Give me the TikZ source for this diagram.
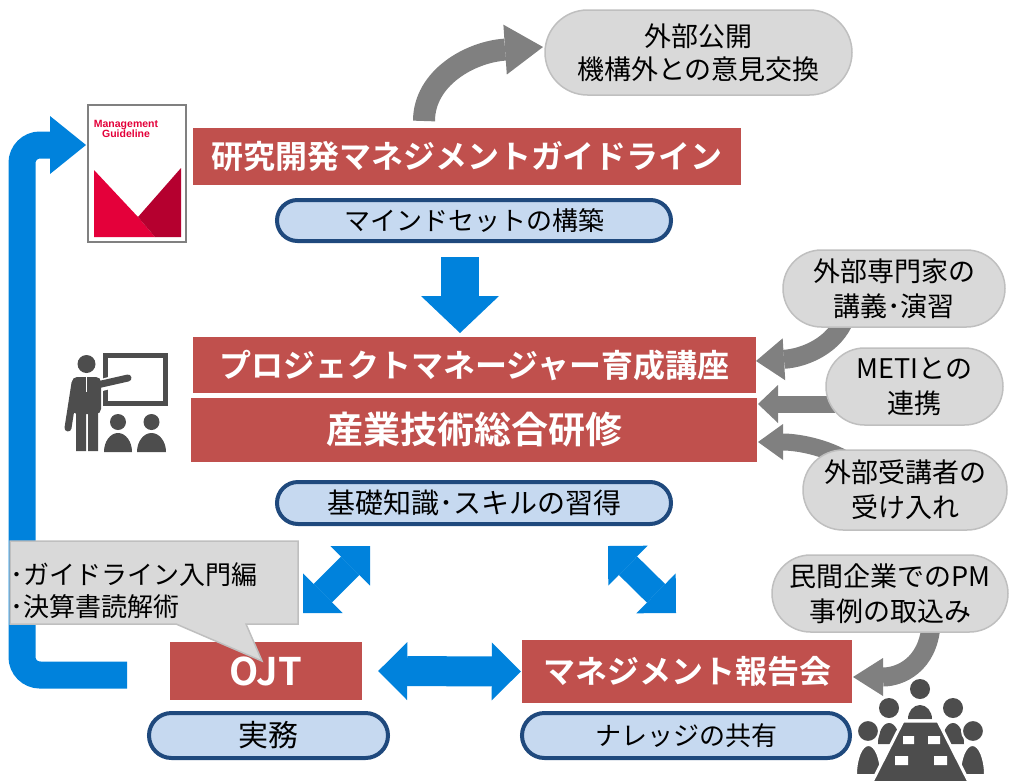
\documentclass[tikz,border=0pt]{standalone}
\usepackage{fontspec}
\setmainfont{Noto Sans CJK JP}[BoldFont={Noto Sans CJK JP Bold}]
\newfontfamily\coverfont{Liberation Sans}
\usetikzlibrary{arrows.meta,shapes.misc,shapes.callouts}

\definecolor{titlered}{RGB}{192,80,77}
\definecolor{tagfill}{RGB}{198,217,240}
\definecolor{tagline}{RGB}{31,73,125}
\definecolor{flowblue}{RGB}{0,130,220}
\definecolor{notefill}{RGB}{217,217,217}
\definecolor{noteline}{RGB}{191,191,191}
\definecolor{feedgray}{RGB}{128,128,128}
\definecolor{icongray}{RGB}{77,77,77}
\definecolor{guidered}{RGB}{228,0,58}
\definecolor{guidedark}{RGB}{181,0,47}

\tikzset{
	redbox/.style={fill=titlered, text=white, inner sep=0pt, font=\bfseries\fontsize{32}{36}\selectfont},
	tagbox/.style={rounded rectangle, fill=tagfill, draw=tagline, line width=4pt, inner sep=0pt, font=\fontsize{26}{30}\selectfont},
	notebox/.style={rounded rectangle, fill=notefill, draw=noteline, line width=1.5pt, inner sep=0pt, align=center, font=\fontsize{27}{35}\selectfont},
	blueflow/.style={draw=flowblue, line width=#1},
	grayflow/.style={draw=feedgray, line width=#1},
}

\begin{document}
\begin{tikzpicture}[x=1pt, y=-1pt]
	\useasboundingbox (0,0) rectangle (1010,780);

	\coordinate (loopend) at (127,675);
	\coordinate (looptip) at (86,145);
	\draw [blueflow=27pt, rounded corners=18pt] (loopend) -- (22,675) -- (22,145) -- (54,145);
	\draw [blueflow=27pt, -{Triangle[width=58pt,length=36pt,line width=0pt]}] (50,145) -- (looptip);

	\filldraw [fill=white, draw=gray, line width=2pt] (88,105) rectangle (186,242);
	\fill [guidered] (94,170) -- (138,217) -- (155,237) -- (94,237) -- cycle;
	\fill [guidedark] (138,217) -- (181,168) -- (181,237) -- (155,237) -- cycle;
	\node [text=guidered, align=center, inner sep=0pt, font=\coverfont\bfseries\fontsize{10.5}{9}\selectfont] (cover) at (126,129) {Management\\Guideline};

	\draw [icongray, line width=5pt] (105,355) rectangle (165,403);
	\draw [white, line width=12pt, line cap=round] (98,386) -- (128,378);
	\fill [icongray] (86.5,364) circle (9pt);
	\fill [icongray, rounded corners=5pt] (72,377) -- (101,377) -- (101,414) -- (72,414) -- cycle;
	\fill [icongray] (76,405) rectangle (86,451) (88,405) rectangle (98,451);
	\draw [icongray, line width=7pt, line cap=round] (75,383) -- (68,428) (97,385) -- (128,378);
	\draw [white, line width=1.5pt] (86.5,377) -- (86.5,392);
	\fill [icongray] (118,422) circle (8pt) (151.5,422) circle (8pt);
	\fill [icongray] (104,452) arc [start angle=180, end angle=0, x radius=14pt, y radius=19pt] -- cycle;
	\fill [icongray] (137,452) arc [start angle=180, end angle=0, x radius=14.5pt, y radius=19pt] -- cycle;

	\fill [icongray] (920,689) circle (10pt) (889,708) circle (10pt) (953,708) circle (10pt);
	\fill [icongray] (908,719) arc [start angle=180, end angle=0, x radius=12pt, y radius=14pt] -- cycle;
	\fill [icongray] (878,744) arc [start angle=180, end angle=0, x radius=11pt, y radius=21pt] -- cycle;
	\fill [icongray] (942,744) arc [start angle=180, end angle=0, x radius=11pt, y radius=21pt] -- cycle;
	\filldraw [fill=icongray, draw=white, line width=2pt] (868,731) circle (11pt) (973,731) circle (11pt);
	\filldraw [fill=icongray, draw=white, line width=2pt] (856,775) arc [start angle=180, end angle=0, x radius=12.5pt, y radius=30pt] -- cycle;
	\filldraw [fill=icongray, draw=white, line width=2pt] (960,775) arc [start angle=180, end angle=0, x radius=12.5pt, y radius=30pt] -- cycle;
	\filldraw [fill=icongray, draw=white, line width=3pt] (903,721) -- (938,721) -- (970,784) -- (871,784) -- cycle;
	\fill [white] (903,736) rectangle (914,744) (928,736) rectangle (940,744) (895,756) rectangle (908,765) (934,756) rectangle (947,765);

	\coordinate (guidetop) at (424,121);
	\coordinate (publictip) at (543,47);
	\draw [grayflow=22pt, >={Triangle[width=50pt,length=38pt,line width=0pt]}, ->] (guidetop) .. controls (424,78) and (470,52) .. (publictip);
	\coordinate (expertfoot) at (845,318);
	\coordinate (coursetip) at (756,361);
	\draw [grayflow=19pt, >={Triangle[width=42pt,length=28pt,line width=0pt]}, ->] (expertfoot) .. controls (835,345) and (805,358) .. (coursetip);
	\coordinate (metifoot) at (835,404);
	\coordinate (midtip) at (758,404);
	\draw [grayflow=17pt, >={Triangle[width=38pt,length=20pt,line width=0pt]}, ->] (metifoot) -- (midtip);
	\coordinate (guestfoot) at (850,462);
	\coordinate (trainingtip) at (758,442);
	\draw [grayflow=17pt, >={Triangle[width=36pt,length=25pt,line width=0pt]}, ->] (guestfoot) .. controls (825,446) and (795,442) .. (trainingtip);
	\coordinate (privatefoot) at (931,625);
	\coordinate (reporttip) at (853,677);
	\draw [grayflow=19pt, >={Triangle[width=38pt,length=30pt,line width=0pt]}, ->] (privatefoot) .. controls (928,665) and (900,677) .. (reporttip);

	\node [notebox, minimum width=307pt, minimum height=85pt, font=\fontsize{27}{33}\selectfont] (public) at (698.5,52.5) {外部公開\\機構外との意見交換};
	\node [notebox, minimum width=222pt, minimum height=77pt] (expert) at (894,288.5) {外部専門家の\\講義･演習};
	\node [notebox, minimum width=177pt, minimum height=77pt] (meti) at (914.5,386.5) {METIとの\\連携};
	\node [notebox, minimum width=204pt, minimum height=80pt] (guest) at (905,490) {外部受講者の\\受け入れ};
	\node [notebox, minimum width=236pt, minimum height=77pt] (private) at (890,593.5) {民間企業でのPM\\事例の取込み};

	\node [redbox, minimum width=548pt, minimum height=57pt] (guide) at (467,156.5) {研究開発マネジメントガイドライン};
	\node [tagbox, minimum width=394pt, minimum height=41pt] (mind) at (474,220.5) {マインドセットの構築};
	\node [redbox, minimum width=563pt, minimum height=56pt] (course) at (474.5,365) {プロジェクトマネージャー育成講座};
	\node [redbox, minimum width=566pt, minimum height=64pt, font=\bfseries\fontsize{37}{40}\selectfont] (training) at (474,430) {産業技術総合研修};
	\node [tagbox, minimum width=394pt, minimum height=42pt, font=\fontsize{28}{30}\selectfont] (basics) at (474,503) {基礎知識･スキルの習得};
	\node [redbox, minimum width=192pt, minimum height=58pt, font=\bfseries\fontsize{38}{40}\selectfont] (ojt) at (266,671) {OJT};
	\node [tagbox, minimum width=239pt, minimum height=45pt, font=\fontsize{30}{32}\selectfont] (practice) at (268.5,735.5) {実務};
	\node [redbox, minimum width=330pt, minimum height=63pt] (report) at (687,671.5) {マネジメント報告会};
	\node [tagbox, minimum width=328pt, minimum height=45pt] (share) at (686,735.5) {ナレッジの共有};

	\coordinate (downtail) at (460,257);
	\coordinate (downtip) at (460,333);
	\draw [blueflow=38pt, -{Triangle[width=78pt,length=37pt,line width=0pt]}] (downtail) -- (downtip);
	\coordinate (ojtup) at (303,613);
	\coordinate (basicsleft) at (370,546);
	\coordinate (basicsright) at (608,546);
	\coordinate (reportup) at (676,613);
	\draw [blueflow=26pt, >={Triangle[width=56pt,length=28pt,line width=0pt]}, <->] (ojtup) -- (basicsleft);
	\draw [blueflow=26pt, >={Triangle[width=56pt,length=28pt,line width=0pt]}, <->] (basicsright) -- (reportup);
	\draw [blueflow=30pt, >={Triangle[width=58pt,length=29pt,line width=0pt]}, <->] ([xshift=16pt]ojt.east) -- ([xshift=-1pt]report.west);

	\node [rectangle callout, fill=notefill, draw=noteline, line width=1.5pt, minimum width=288pt, minimum height=83pt, callout absolute pointer={(262,661)}, callout pointer width=70pt] (memo) at (154,582.5) {};
	\node [anchor=west, align=left, inner sep=0pt, font=\fontsize{26}{32}\selectfont] (memotext) at (10,591) {･ガイドライン入門編\\･決算書読解術};
\end{tikzpicture}
\end{document}
